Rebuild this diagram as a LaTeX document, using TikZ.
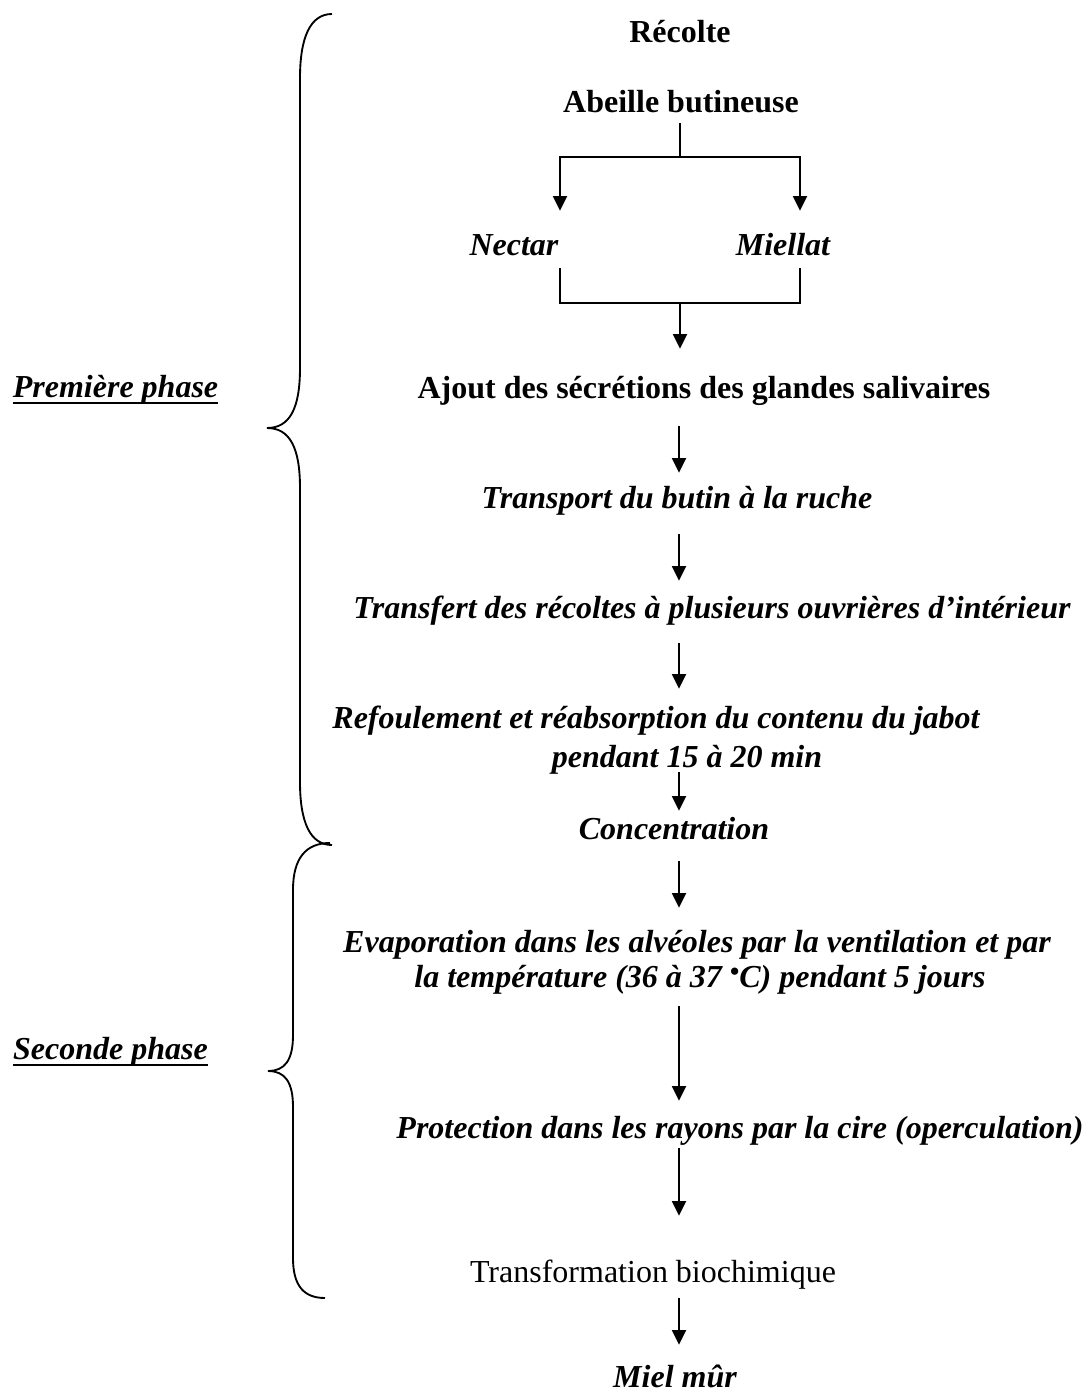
\documentclass[tikz,border=0pt]{standalone}
\usepackage{fontspec}
\setmainfont{Liberation Serif}
\usetikzlibrary{arrows.meta}
\begin{document}
\begin{tikzpicture}[x=0.75pt,y=-0.75pt,
  txt/.style={inner sep=0pt, anchor=base, text height=15pt, text depth=4.5pt},
  bf/.style={txt, font=\fontsize{24}{28}\selectfont\bfseries},
  bfi/.style={txt, font=\fontsize{24}{28}\selectfont\bfseries\itshape},
  rm/.style={txt, font=\fontsize{24}{28}\selectfont},
  ln/.style={line width=1.4pt},
  arr/.style={ln, -{Triangle[width=10.5pt,length=11pt]}},
  sh/.style 2 args={shorten <=#1*0.75pt, shorten >=#2*0.75pt},
  brace/.style={line width=1.4pt}]
\fill[white] (0,0) rectangle (1088,1393);
\path[use as bounding box] (0,0) rectangle (1088,1393);

% helper coordinates
\coordinate (axis) at (679,0);
\coordinate (L) at (560,0);
\coordinate (R) at (800,0);
\coordinate (split) at (680,157);
\coordinate (merge) at (680,303);

% texts
\node[bf] (recolte) at (680,42) {Récolte};
\node[bf] (abeille) at (681,112) {Abeille butineuse};
\node[bfi] (nectar) at (514,255) {Nectar};
\node[bfi] (miellat) at (783,255) {Miellat};
\node[bf] (ajout) at (704,398) {Ajout des sécrétions des glandes salivaires};
\node[bfi] (transport) at (677,508) {Transport du butin à la ruche};
\node[bfi] (transfert) at (712,618) {Transfert des récoltes à plusieurs ouvrières d’intérieur};
\node[bfi] (refoulA) at (656,728) {Refoulement et réabsorption du contenu du jabot};
\node[bfi] (refoulB) at (687,767) {pendant 15 à 20 min};
\node[bfi] (concentration) at (674,839) {Concentration};
\node[bfi] (evapA) at (697,952) {Evaporation dans les alvéoles par la ventilation et par};
\node[bfi] (evapB) at (700,987) {la température (36 à 37 \raisebox{.2em}{\fontsize{20}{20}\selectfont •}C) pendant 5 jours};
\node[bfi] (protection) at (740,1138) {Protection dans les rayons par la cire (operculation)};
\node[rm] (transformation) at (653,1282) {Transformation biochimique};
\node[bfi] (miel) at (675,1387) {Miel mûr};

\node[bfi] (phaseA) at (115.5,397) {Première phase};
\node[bfi] (phaseB) at (110.5,1059) {Seconde phase};
\draw[line width=2.2pt] ([yshift=-4.5pt]phaseA.base west) -- ([yshift=-4.5pt]phaseA.base east);
\draw[line width=2.2pt] ([yshift=-4.5pt]phaseB.base west) -- ([yshift=-4.5pt]phaseB.base east);

% connectors
\draw[ln, sh={5}{0}] (abeille.south -| split) -- (split);
\draw[arr, sh={0}{24}] (split) -| (nectar.north -| L);
\draw[arr, sh={0}{24}] (split) -| (miellat.north -| R);
\draw[ln, sh={7}{0}] (nectar.south -| L) |- (merge);
\draw[ln, sh={7}{0}] (miellat.south -| R) |- (merge);
\draw[arr, sh={0}{29}] (merge) -- (ajout.north -| merge);
\draw[arr, sh={22}{15}] (ajout.south -| axis) -- (transport.north -| axis);
\draw[arr, sh={20}{17}] (transport.south -| axis) -- (transfert.north -| axis);
\draw[arr, sh={19}{19}] (transfert.south -| axis) -- (refoulA.north -| axis);
\draw[arr, sh={-1}{8}] (refoulB.south -| axis) -- (concentration.north -| axis);
\draw[arr, sh={16}{24}] (concentration.south -| axis) -- (evapA.north -| axis);
\draw[arr, sh={13}{17}] (evapB.south -| axis) -- (protection.north -| axis);
\draw[arr, sh={4}{46}] (protection.south -| axis) -- (transformation.north -| axis);
\draw[arr, sh={10}{22}] (transformation.south -| axis) -- (miel.north -| axis);

% braces
\draw[brace] (332,14) .. controls (310,14) and (300,38) .. (300,78)
  -- (300,368) .. controls (300,408) and (290,428) .. (267,428)
  .. controls (290,428) and (300,448) .. (300,488)
  -- (300,782) .. controls (300,822) and (310,845) .. (332,845);
\draw[brace] (330,843) .. controls (306,843) and (293,858) .. (293,890)
  -- (293,1035) .. controls (293,1060) and (285,1071) .. (268,1071)
  .. controls (285,1071) and (293,1082) .. (293,1107)
  -- (293,1258) .. controls (293,1286) and (304,1298) .. (325,1298);
\end{tikzpicture}
\end{document}
